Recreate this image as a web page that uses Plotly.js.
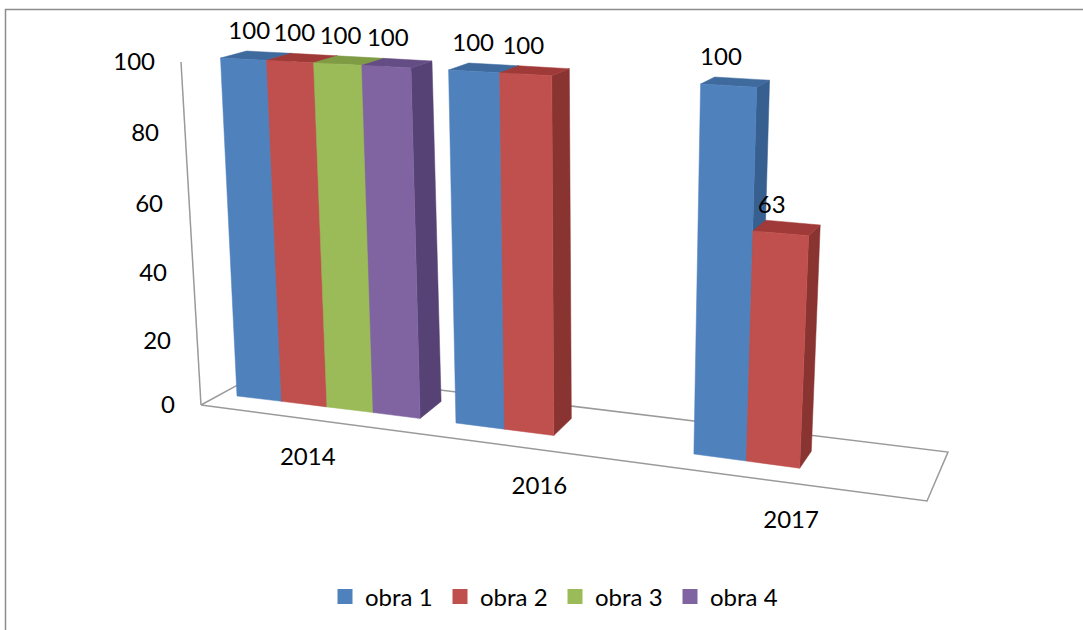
<!DOCTYPE html>
<html>
<head>
<meta charset="utf-8">
<script src="https://cdn.plot.ly/plotly-3.0.1.min.js"></script>
<style>html,body{margin:0;padding:0;background:#fff}#chart{width:1083px;height:630px}</style>
</head>
<body>
<div id="chart"></div>
<script>
// ---- data ----
const categories = ['2014', '2016', '2017'];
const seriesNames = ['obra 1', 'obra 2', 'obra 3', 'obra 4'];
const obra1 = [100, 100, 100];
const obra2 = [100, 100, 63];
const obra3 = [100, null, null];
const obra4 = [100, null, null];
const valueTicks = [0, 20, 40, 60, 80, 100];
const frontColors = ['#4F81BD', '#C0504D', '#9BBB59', '#8064A2'];
const sideColors = ['#375F8F', '#8A3432', '#70883F', '#564274'];
const topColors = ['#3F6A9E', '#A03A38', '#7F9C45', '#644D85'];
const allSeries = [obra1, obra2, obra3, obra4];

// ---- the oblique view of the 3-D plot box ----
const CAT_SLOTS = 4.75;
const TEXT_NUDGE = 1.5;
const quad = (c, a, b, u) => c + a * u + b * u * u;
const xBottom = u => quad(237, 44.1, 0.42, u);
const xTop = u => quad(220.5, 45.5, 0.53, u);
const yBottom = u => quad(396, 5.26, 0.089, u);
const yTop = u => quad(58, 2.32, 0.044, u);
const rise = v => Math.pow(v / 100, 1.05);
const front = (u, v) => {
  const k = rise(v);
  return [xBottom(u) + (xTop(u) - xBottom(u)) * v / 100, yBottom(u) + (yTop(u) - yBottom(u)) * k];
};
const back = (u, v) => {
  const p = front(u, v);
  return [p[0] + 26 - 1.25 * u, p[1] - 17 + 0.10 * v];
};

function collect(polys) {
  const x = [], y = [];
  polys.forEach(poly => {
    poly.forEach(p => { x.push(p[0]); y.push(p[1]); });
    x.push(poly[0][0]); y.push(poly[0][1]);
    x.push(null); y.push(null);
  });
  return {x, y};
}
function face(polys, color) {
  const c = collect(polys);
  return {type: 'scatter', mode: 'lines', x: c.x, y: c.y, fill: 'toself', fillcolor: color,
    line: {width: 0.5, color: color}, hoverinfo: 'skip', showlegend: false};
}

const traces = [];

// plot-box floor and the value axis edge
const frameColor = '#9a9a9a';
const floorCorners = [[201, 405], [927, 501], [948, 452], [267, 369]];
const floorLine = collect([floorCorners]);
traces.push({type: 'scatter', mode: 'lines', x: floorLine.x, y: floorLine.y,
  line: {color: frameColor, width: 1.5}, hoverinfo: 'skip', showlegend: false});
const axisEdge = valueTicks.map(v => [201 - 20 * rise(v), 405 - 343 * rise(v)]);
traces.push({type: 'scatter', mode: 'lines', x: axisEdge.map(p => p[0]), y: axisEdge.map(p => p[1]),
  line: {color: frameColor, width: 1.5}, hoverinfo: 'skip', showlegend: false});

// bars
const labelX = [], labelY = [], labelText = [];
allSeries.forEach((values, s) => {
  const sides = [], tops = [], fronts = [];
  values.forEach((v, c) => {
    if (v === null) return;
    const u0 = c * CAT_SLOTS + s, u1 = u0 + 1;
    sides.push([front(u1, 0), back(u1, 0), back(u1, v), front(u1, v)]);
    tops.push([front(u0, v), front(u1, v), back(u1, v), back(u0, v)]);
    fronts.push([front(u0, 0), front(u1, 0), front(u1, v), front(u0, v)]);
    const um = u0 + 0.5, t = front(um, v);
    labelX.push(t[0] + 6.5 - 1.4 * um);
    labelY.push(t[1] - 28 + TEXT_NUDGE);
    labelText.push(String(v));
  });
  traces.push(face(sides, sideColors[s]), face(tops, topColors[s]), face(fronts, frontColors[s]));
});

const textFont = {family: 'Lato, Carlito, sans-serif', size: 24, color: '#000'};

// data labels
traces.push({type: 'scatter', mode: 'text', x: labelX, y: labelY, text: labelText,
  textposition: 'middle center', textfont: textFont, hoverinfo: 'skip', showlegend: false});

// value tick labels follow the slanted axis edge
traces.push({type: 'scatter', mode: 'text',
  x: valueTicks.map(v => 175 - 0.2 * v),
  y: valueTicks.map(v => 405 - 343 * rise(v) + TEXT_NUDGE),
  text: valueTicks.map(String), textposition: 'middle left', textfont: textFont,
  hoverinfo: 'skip', showlegend: false});

// category labels follow the floor
const catU = categories.map((_, c) => c * CAT_SLOTS + 1.58 + 0.13 * c);
traces.push({type: 'scatter', mode: 'text',
  x: catU.map(xBottom), y: catU.map(u => yBottom(u) + 53 + TEXT_NUDGE), text: categories,
  textposition: 'middle center', textfont: textFont, hoverinfo: 'skip', showlegend: false});

// legend entries
seriesNames.forEach((name, s) => {
  traces.push({type: 'scatter', mode: 'markers', name: name, x: [null], y: [null],
    marker: {symbol: 'square', size: 15, color: frontColors[s]}, hoverinfo: 'skip'});
});

const layout = {
  width: 1083, height: 630,
  margin: {l: 0, r: 0, t: 0, b: 0},
  paper_bgcolor: '#fff', plot_bgcolor: '#fff',
  xaxis: {range: [0, 1083], visible: false, fixedrange: true},
  yaxis: {range: [630, 0], visible: false, fixedrange: true},
  showlegend: true,
  legend: {orientation: 'h', x: 325 / 1083, xanchor: 'left', y: 1 - 597 / 630, yanchor: 'middle',
    font: textFont, entrywidth: 70, entrywidthmode: 'pixels', bgcolor: 'rgba(0,0,0,0)', itemclick: false, itemdoubleclick: false},
  shapes: [{type: 'path', xref: 'x', yref: 'y', path: 'M5.5,630 L5.5,9.5 L1083,9.5',
    line: {color: '#8c8c8c', width: 1.5}, layer: 'below'}]
};
Plotly.newPlot('chart', traces, layout, {displayModeBar: false, responsive: false});
</script>
</body>
</html>
